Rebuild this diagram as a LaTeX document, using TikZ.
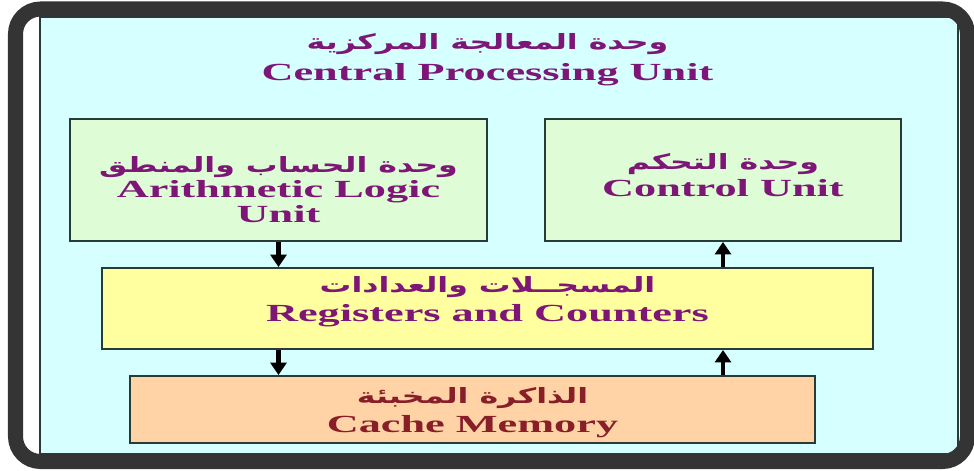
\documentclass[tikz,border=0pt]{standalone}
\usepackage{fontspec}
\usepackage{tikz}
\usetikzlibrary{positioning, arrows.meta}
\TeXXeTstate=1
\newfontfamily\arfont[Script=Arabic, FakeStretch=1.5]{DejaVu Sans}
\newfontfamily\enfont[FakeStretch=1.8]{Liberation Serif}
\definecolor{panel}{RGB}{214,255,255}
\definecolor{framegray}{RGB}{52,52,52}
\definecolor{boxline}{RGB}{40,60,55}
\definecolor{alufill}{RGB}{222,253,214}
\definecolor{regfill}{RGB}{255,255,160}
\definecolor{cachefill}{RGB}{255,211,166}
\definecolor{purpletext}{RGB}{125,22,118}
\definecolor{cachetext}{RGB}{135,30,40}

\begin{document}
\begin{tikzpicture}[
    unit/.style={draw=boxline, line width=1.1pt, inner sep=0pt},
    unittext/.style={align=center, inner sep=0pt, text=purpletext, font=\fontsize{14}{14.2}\selectfont},
    flow/.style={-{Triangle[width=9pt,length=7pt]}, line width=2.3pt, black}
    ]
\useasboundingbox (0,0) rectangle (19.48,9.4);
\fill[white, rounded corners=0.5cm] (0.31,0.17) rectangle (19.35,9.22);
\draw[boxline, fill=panel, line width=0.6pt] (0.8,0.32) rectangle (19.16,9.06);
\draw[framegray, line width=0.3cm, rounded corners=0.5cm] (0.31,0.17) rectangle (19.35,9.22);

% title
\node[text=purpletext, font=\fontsize{12}{14}\selectfont] (cpuar) at (9.75,8.52) {\arfont\bfseries\beginR وحدة المعالجة المركزية\endR};
\node[text=purpletext, font=\fontsize{14}{16}\selectfont] (cpuen) at (9.75,7.90) {\enfont\bfseries Central Processing Unit};

% boxes
\node[unit, fill=alufill, minimum width=8.34cm, minimum height=2.44cm] (alu) at (5.57,5.80) {};
\node[unit, fill=alufill, minimum width=7.12cm, minimum height=2.44cm] (cu) at (14.46,5.80) {};
\node[unit, fill=regfill, minimum width=15.42cm, minimum height=1.62cm] (reg) at (9.75,3.23) {};
\node[unit, fill=cachefill, minimum width=13.7cm, minimum height=1.34cm] (cache) at (9.45,1.21) {};

\node[unittext] (alutext) at (5.57,5.61)
  {{\arfont\bfseries\fontsize{12}{14}\selectfont\beginR وحدة الحساب والمنطق\endR}\\[0.5pt]
   \enfont\bfseries Arithmetic Logic\\ \enfont\bfseries Unit};
\node[unittext] (cutext) at (14.46,5.90)
  {{\arfont\bfseries\fontsize{12}{14}\selectfont\beginR وحدة التحكم\endR}\\[1.5pt]
   \enfont\bfseries Control Unit};
\node[unittext] (regtext) at (9.75,3.37)
  {{\arfont\bfseries\fontsize{12}{14}\selectfont\beginR المسجــلات والعدادات\endR}\\[2pt]
   \enfont\bfseries Registers and Counters};
\node[unittext, text=cachetext] (cachetext) at (9.45,1.15)
  {{\arfont\bfseries\fontsize{12}{14}\selectfont\beginR الذاكرة المخبئة\endR}\\[2pt]
   \enfont\bfseries Cache Memory};

% arrows
\draw[flow] (alu.south) -- (alu.south |- reg.north);
\draw[flow] (alu.south |- reg.south) -- (alu.south |- cache.north);
\draw[flow] (cu.south |- reg.north) -- (cu.south);
\draw[flow] (cu.south |- cache.north) -- (cu.south |- reg.south);
\end{tikzpicture}
\end{document}
